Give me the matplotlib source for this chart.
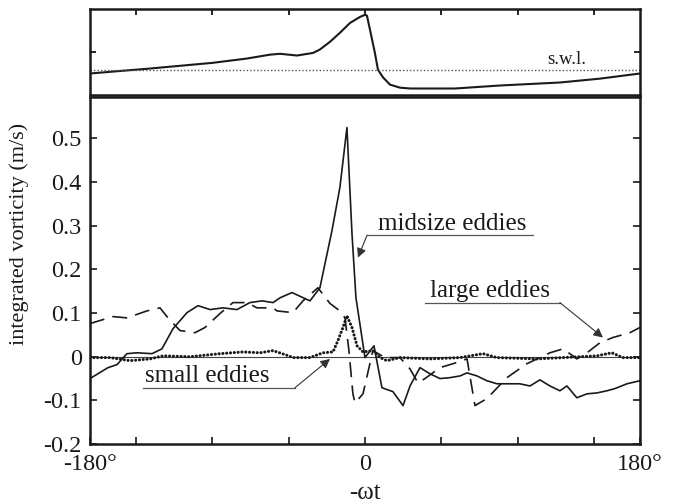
import numpy as np
import matplotlib.pyplot as plt

plt.rcParams["font.family"] = ["Liberation Serif", "DejaVu Serif"]

# --- free-surface elevation (top panel, arbitrary units) ---
eta_phase = [-180, -160, -142.7, -121, -99.5, -77.2, -62.2, -55.6, -44.5, -34, -29.5,
             -22.9, -16.4, -9.8, -3.3, 0, 1.3, 3.3, 6.5, 8.5, 11.8, 16.4, 22.9,
             29.5, 58.9, 88.4, 127.6, 153.8, 180]
eta = [-0.51, -0.45, -0.40, -0.33, -0.26, -0.16, -0.07, -0.05, -0.09, -0.03, 0.05,
       0.23, 0.44, 0.67, 0.81, 0.86, 0.84, 0.51, -0.03, -0.42, -0.60, -0.77, -0.84,
       -0.86, -0.86, -0.79, -0.72, -0.63, -0.51]
swl = -0.42

# --- integrated vorticity (m/s) ---
mid_phase = [-180, -168.2, -162.3, -155.8, -149.2, -139.4, -132.9, -125.7, -116.5,
             -109.3, -101.4, -92.9, -83.8, -75.3, -67.4, -60.2, -55.6, -47.8, -36.0,
             -29.5, -21.6, -16.4, -11.8, -8.5, -5.9, 0, 5.9, 11.1, 18.3, 24.9, 29.5,
             36.0, 42.5, 49.1, 55.6, 62.2, 66.8, 73.3, 79.8, 86.4, 94.9, 101.4, 108.0,
             114.5, 121.1, 127.6, 132.2, 138.7, 145.3, 151.8, 158.4, 163.6, 171.5, 180]
midsize = [-0.050, -0.025, -0.018, 0.007, 0.009, 0.007, 0.018, 0.064, 0.101,
           0.117, 0.108, 0.112, 0.108, 0.124, 0.128, 0.124, 0.135, 0.147, 0.128,
           0.158, 0.289, 0.388, 0.525, 0.282, 0.135, -0.002, 0.025, -0.071, -0.080,
           -0.112, -0.067, -0.025, -0.039, -0.050, -0.048, -0.044, -0.037, -0.044,
           -0.055, -0.062, -0.062, -0.062, -0.067, -0.053, -0.067, -0.078, -0.067,
           -0.094, -0.085, -0.083, -0.078, -0.073, -0.062, -0.055]

large_phase = [-180, -164.9, -155.8, -142.7, -134.2, -128.9, -121.1, -111.3, -104.7,
               -94.9, -86.4, -77.2, -70.7, -60.2, -57.6, -47.1, -40.6, -30.8, -22.9,
               -16.4, -13.1, -10.5, -7.9, -6.5, -1.3, 5.2, 13.1, 22.9, 29.5, 34.7,
               39.3, 49.1, 57.6, 66.8, 72.0, 79.8, 92.9, 106.0, 121.1, 129.6, 136.1,
               138.7, 145.3, 153.8, 162.3, 173.4, 180]
large = [0.076, 0.092, 0.089, 0.105, 0.112, 0.089, 0.060, 0.055, 0.067,
         0.099, 0.124, 0.124, 0.112, 0.112, 0.105, 0.101, 0.128, 0.158, 0.122,
         0.105, 0.089, 0.014, -0.085, -0.106, -0.085, 0.014, -0.002, -0.002, -0.028,
         -0.060, -0.050, -0.025, -0.016, -0.005, -0.112, -0.096, -0.048, -0.016,
         0.009, 0.018, 0.002, -0.005, 0.009, 0.032, 0.044, 0.055, 0.067]

small_phase = [-180, -167, -153.8, -140.7, -132.2, -114.5, -94.9, -79.8, -68.7, -60.2,
               -52.4, -47.1, -36.0, -27.5, -20.9, -17.7, -14.4, -11.8, -8.5, -5.2,
               -1.3, 5.2, 9.8, 14.4, 22.9, 42.5, 62.2, 77.2, 86.4, 112.6, 129.6,
               151.8, 161.6, 168.8, 180]
small = [-0.002, -0.002, -0.009, -0.005, 0.002, 0.000, 0.007, 0.011, 0.009, 0.014,
         0.005, -0.002, -0.002, 0.009, 0.011, 0.037, 0.067, 0.094, 0.067, 0.025,
         0.011, 0.014, -0.002, -0.009, -0.002, -0.005, -0.002, 0.007, -0.002,
         -0.005, -0.002, 0.002, 0.009, -0.002, -0.002]

xticks = [-180, -150, -100, -50, 0, 50, 100, 150, 180]
xticklabels = ["-180°", "", "", "", "0", "", "", "", "180°"]
yticks = [-0.2, -0.1, 0, 0.1, 0.2, 0.3, 0.4, 0.5]
yticklabels = ["-0.2", "-0.1", "0", "0.1", "0.2", "0.3", "0.4", "0.5"]

ink = "#1a1a1a"
fig = plt.figure(figsize=(6.73, 5.04), dpi=100)
ax_top = fig.add_axes([0.1337, 0.8125, 0.8172, 0.1700])
ax = fig.add_axes([0.1337, 0.119, 0.8172, 0.6885])

for a in (ax_top, ax):
    for s in a.spines.values():
        s.set_linewidth(1.8)
        s.set_color(ink)
    a.set_xlim(-180, 180)

# --- top panel: surface elevation ---
ax_top.plot(eta_phase, eta, color=ink, lw=1.5)
ax_top.axhline(swl, color="#555555", lw=1.0, ls=(0, (1, 1.5)))
ax_top.text(132, -0.19, "s.w.l.", fontsize=13.5, color=ink, ha="center", va="center")
ax_top.set_ylim(-1, 1)
ax_top.set_yticks([0])
ax_top.set_xticks([-150, -100, -50, 0, 50, 100, 150])
ax_top.tick_params(direction="in", length=4, width=1.2, top=True, bottom=False,
                   left=True, right=True, labelbottom=False, labelleft=False)

# --- bottom panel: vorticity ---
ax.axhline(0, color="#444444", lw=0.8)
ax.plot(mid_phase, midsize, color=ink, lw=1.2)
ax.plot(large_phase, large, color=ink, lw=1.2, ls=(0, (9, 5)))
ax.plot(small_phase, small, color=ink, lw=2.2, ls=(0, (0.05, 1.2)),
        dash_capstyle="round")

ax.set_ylim(-0.2, 0.595)
ax.set_xticks(xticks)
ax.set_xticklabels(xticklabels)
ax.set_yticks(yticks)
ax.set_yticklabels(yticklabels)
ax.tick_params(direction="in", length=5, width=1.2, labelsize=17.5, colors=ink,
               right=True, top=False)
ax.tick_params(axis="x", pad=7)
ax.tick_params(axis="y", pad=6)
ax.set_xlabel("-ωt", fontsize=18, color=ink)
ax.xaxis.label.set_va("center")
ax.xaxis.set_label_coords(0.5, -0.14)
ax.set_ylabel("integrated vorticity (m/s)", fontsize=16, color=ink)
ax.yaxis.label.set_va("center")
ax.yaxis.set_label_coords(-0.128, 0.604)

# --- labels with leader lines ---
labels = [
    ("midsize eddies", (8.5, 0.305), (1.3, 110.0, 0.278), (-4.6, 0.227), "left"),
    ("large eddies", (42.5, 0.151), (39.3, 127.6, 0.124), (155.8, 0.044), "right"),
    ("small eddies", (-144.0, -0.044), (-145.3, -45.8, -0.071), (-22.9, -0.005), "right"),
]
for txt, tpos, (x0, x1, yl), tip, side in labels:
    ax.text(tpos[0], tpos[1], txt, fontsize=18, color=ink, ha="left", va="center")
    ax.plot([x0, x1], [yl, yl], color="#555555", lw=0.9)
    start = (x0, yl) if side == "left" else (x1, yl)
    ax.annotate("", xy=tip, xytext=start,
                arrowprops=dict(arrowstyle="-|>", color="#333333", lw=0.8,
                                mutation_scale=14, shrinkA=0, shrinkB=0))

fig.savefig("out.png", dpi=100)
